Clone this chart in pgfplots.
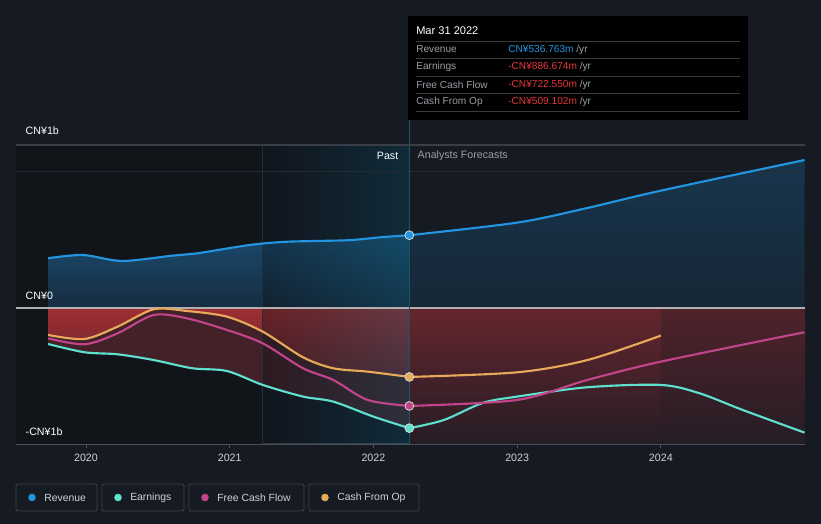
\documentclass[border=0pt]{standalone}
\usepackage{fontspec}
\setmainfont{Liberation Sans}
\usepackage{pgfplots}
\usepackage{pgfplotstable}
\pgfplotsset{compat=1.18}
\definecolor{bgc}{HTML}{151A23}
\definecolor{darkband}{HTML}{111419}
\definecolor{revc}{HTML}{2394DF}
\definecolor{earnc}{HTML}{5FE0CF}
\definecolor{fcfc}{HTML}{C2448A}
\definecolor{cfoc}{HTML}{E8A95A}
\definecolor{negc}{HTML}{E8383C}
\definecolor{axc}{HTML}{4A4F58}
\definecolor{txtc}{HTML}{D0D3D8}
\definecolor{grayt}{HTML}{9A9EA5}
\definecolor{gridA}{HTML}{3A3E46}
\definecolor{gridB}{HTML}{252A32}
\definecolor{zeroc}{HTML}{B0B0B0}
\definecolor{vlinec}{HTML}{1B5366}
\definecolor{bandl}{HTML}{1A3340}
\definecolor{hlc}{HTML}{138AAE}
\definecolor{sepc}{HTML}{3A3A3A}
\definecolor{boxc}{HTML}{3A3F48}

\pgfplotstableread{
x y
2019.736 367
2019.98 391
2020.25 347
2020.60 386
2020.79 406
2021.14 465
2021.40 489
2021.82 500
2022.05 522
2022.25 537
}\revpast
\pgfplotstableread{
x y
2022.25 537
2023.0 630
2023.48 736
2024.0 866
2025.0 1092
}\revfut
\pgfplotstableread{
x y
2019.736 -266
2019.99 -327
2020.22 -342
2020.47 -384
2020.74 -445
2020.98 -465
2021.23 -568
2021.51 -654
2021.72 -691
2022.00 -802
2022.25 -887
}\earnpast
\pgfplotstableread{
x y
2022.25 -887
2022.49 -827
2022.76 -701
2023.0 -654
2023.49 -585
2024.0 -568
2024.27 -630
2024.57 -753
2025.0 -920
}\earnfut
\pgfplotstableread{
x y
2019.736 -224
2019.99 -268
2020.22 -187
2020.47 -52
2020.70 -76
2020.98 -162
2021.23 -261
2021.51 -445
2021.72 -531
2021.96 -679
2022.25 -723
}\fcfpast
\pgfplotstableread{
x y
2022.25 -723
2023.0 -679
2023.49 -531
2024.0 -396
2025.0 -179
}\fcffut
\pgfplotstableread{
x y
2019.736 -199
2019.99 -229
2020.22 -138
2020.47 -10
2020.70 -22
2020.98 -64
2021.23 -175
2021.51 -364
2021.72 -445
2021.96 -470
2022.25 -509
}\cfopast
\pgfplotstableread{
x y
2022.25 -509
2023.0 -475
2023.49 -384
2024.0 -204
}\cfofut

\begin{document}
\begin{tikzpicture}
\begin{scope}[x=0.75pt,y=-0.75pt,shift={(0pt,393pt)}]
\fill[bgc] (0,0) rectangle (821,524);
\draw[vlinec, line width=0.8pt] (409.3,110) -- (409.3,146);
\end{scope}
\begin{axis}[
  at={(12pt,60pt)}, anchor=south west,
  width=591.75pt, height=224.25pt, scale only axis,
  xmin=2019.513, xmax=2025.003, ymin=-1004, ymax=1203,
  axis y line=none, axis x line=bottom,
  x axis line style={-, draw=axc, line width=0.8pt},
  xtick={2020,2021,2022,2023,2024},
  xticklabels={2020,2021,2022,2023,2024},
  major tick length=3pt, tick align=outside,
  tick style={draw=axc, line width=0.6pt},
  xticklabel style={font=\fontsize{8}{9}\selectfont, text=txtc, yshift=-1pt},
  /pgf/number format/assume math mode=true,
  clip=true,
]
% background bands
\fill[darkband] (axis cs:2019.513,-1004) rectangle (axis cs:2021.23,1203);
% revenue fills
\addplot[draw=none, top color=revc!45!bgc, bottom color=revc!18!bgc, fill opacity=0.9, smooth, tension=0.5] table {\revpast} \closedcycle;
\addplot[draw=none, top color=revc!22!bgc, bottom color=revc!10!bgc, smooth, tension=0.5] table {\revfut} \closedcycle;
% negative fills (past)
\addplot[draw=none, fill=negc!22!bgc, smooth, tension=0.5] table {\earnpast} \closedcycle;
\addplot[draw=none, top color=negc!65!bgc, bottom color=negc!38!bgc, smooth, tension=0.5] table {\cfopast} \closedcycle;
% forecast negative region
\fill[top color=negc!38!bgc, bottom color=negc!8!bgc] (axis cs:2022.25,0) rectangle (axis cs:2024.0,-1004);
\fill[top color=negc!28!bgc, bottom color=negc!8!bgc] (axis cs:2024.0,0) rectangle (axis cs:2025.003,-1004);
% highlight band
\fill[left color=bgc, right color=hlc, fill opacity=0.2] (axis cs:2021.23,-1004) rectangle (axis cs:2022.25,1203);
\draw[bandl, line width=0.4pt] (axis cs:2021.23,-1004) -- (axis cs:2021.23,1203);
% grid lines
\draw[gridA, line width=0.8pt] (axis cs:2019.513,1203) -- (axis cs:2025.003,1203);
\draw[gridB, line width=0.8pt] (axis cs:2019.513,1010) -- (axis cs:2025.003,1010);
\draw[zeroc, line width=1pt] (axis cs:2019.513,0) -- (axis cs:2025.003,0);
\draw[vlinec, line width=0.8pt] (axis cs:2022.25,-1004) -- (axis cs:2022.25,1203);
% lines
\addplot[revc, line width=1.6pt, smooth, tension=0.5] table {\revpast};
\addplot[revc, line width=1.6pt, smooth, tension=0.5] table {\revfut};
\addplot[earnc, line width=1.6pt, smooth, tension=0.5] table {\earnpast};
\addplot[earnc, line width=1.6pt, smooth, tension=0.5] table {\earnfut};
\addplot[fcfc, line width=1.6pt, smooth, tension=0.5] table {\fcfpast};
\addplot[fcfc, line width=1.6pt, smooth, tension=0.5] table {\fcffut};
\addplot[cfoc, line width=1.6pt, smooth, tension=0.5] table {\cfopast};
\addplot[cfoc, line width=1.6pt, smooth, tension=0.5] table {\cfofut};
% markers at Mar 31 2022
\addplot[only marks, mark=*, mark size=3.3pt, mark options={fill=revc, draw=white!85!black, line width=0.6pt}] coordinates {(2022.25,537)};
\addplot[only marks, mark=*, mark size=3.3pt, mark options={fill=earnc, draw=white!85!black, line width=0.6pt}] coordinates {(2022.25,-887)};
\addplot[only marks, mark=*, mark size=3.3pt, mark options={fill=fcfc, draw=white!85!black, line width=0.6pt}] coordinates {(2022.25,-723)};
\addplot[only marks, mark=*, mark size=3.3pt, mark options={fill=cfoc, draw=white!85!black, line width=0.6pt}] coordinates {(2022.25,-509)};
\end{axis}
\begin{scope}[x=0.75pt,y=-0.75pt,shift={(0pt,393pt)}]
% labels
\node[anchor=west, text=white, font=\fontsize{8}{9}\selectfont] at (21,131) {CN¥1b};
\node[anchor=west, text=white, font=\fontsize{8}{9}\selectfont] at (21,296) {CN¥0};
\node[anchor=west, text=white, font=\fontsize{8}{9}\selectfont] at (21,432) {-CN¥1b};
\node[anchor=east, text=white, font=\fontsize{8}{9}\selectfont] at (403,156) {Past};
\node[anchor=west, text=grayt, font=\fontsize{8}{9}\selectfont] at (413,156) {Analysts Forecasts};
% tooltip
\fill[black] (408,16) rectangle (748,120);
\node[anchor=west, text=white, font=\fontsize{8.3}{10}\selectfont, inner sep=0pt] at (416,31) {Mar 31 2022};
\foreach \yy in {41,58,76,93,111} {\draw[sepc, line width=0.6pt] (416,\yy) -- (740,\yy);}
\begin{scope}[every node/.style={font=\fontsize{7.6}{9}\selectfont, inner sep=0pt}]
\node[anchor=west, text=grayt] at (416,49.5) {Revenue};
\node[anchor=west, text=grayt] at (416,67) {Earnings};
\node[anchor=west, text=grayt] at (416,84.5) {Free Cash Flow};
\node[anchor=west, text=grayt] at (416,102) {Cash From Op};
\node[anchor=west] at (508,49.5) {\textcolor{revc}{CN¥536.763m} \textcolor{grayt}{/yr}};
\node[anchor=west] at (508,67) {\textcolor{negc}{-CN¥886.674m} \textcolor{grayt}{/yr}};
\node[anchor=west] at (508,84.5) {\textcolor{negc}{-CN¥722.550m} \textcolor{grayt}{/yr}};
\node[anchor=west] at (508,102) {\textcolor{negc}{-CN¥509.102m} \textcolor{grayt}{/yr}};
\end{scope}
% legend
\begin{scope}[every node/.style={font=\fontsize{7.8}{9}\selectfont, inner sep=0pt, anchor=west, text=txtc}]
\draw[boxc, line width=0.7pt, rounded corners=1.5pt] (16,484) rectangle (97,511);
\fill[revc] (32,497.5) circle (3.8);
\node at (44,497.5) {Revenue};
\draw[boxc, line width=0.7pt, rounded corners=1.5pt] (102,484) rectangle (184,511);
\fill[earnc] (118,497.5) circle (3.8);
\node at (130,497.5) {Earnings};
\draw[boxc, line width=0.7pt, rounded corners=1.5pt] (189,484) rectangle (304,511);
\fill[fcfc] (205,497.5) circle (3.8);
\node at (217,497.5) {Free Cash Flow};
\draw[boxc, line width=0.7pt, rounded corners=1.5pt] (309,484) rectangle (419,511);
\fill[cfoc] (325,497.5) circle (3.8);
\node at (337,497.5) {Cash From Op};
\end{scope}
\end{scope}
\end{tikzpicture}
\end{document}
